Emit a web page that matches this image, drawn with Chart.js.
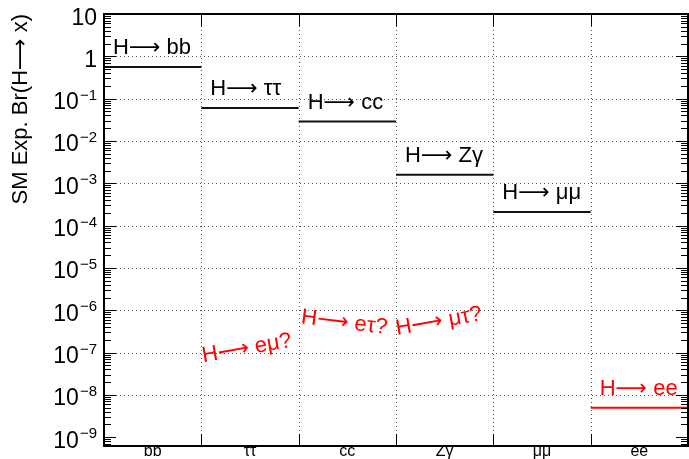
<!DOCTYPE html>
<html>
<head>
<meta charset="utf-8">
<script src="https://cdn.jsdelivr.net/npm/chart.js@4.4.0/dist/chart.umd.min.js"></script>
<style>
    html, body { margin: 0; padding: 0; background: #fff; }
</style>
</head>
<body>
<canvas id="brChart" width="689" height="459"></canvas>
<script>
/**
 * SM expected Higgs branching ratios, ROOT style plot.
 */

var categories  = ['bb', 'ττ', 'cc', 'Zγ', 'μμ', 'ee'];
var decayLabels = ['H⟶ bb', 'H⟶ ττ', 'H⟶ cc', 'H⟶ Zγ', 'H⟶ μμ', 'H⟶ ee'];
var branching   = [0.56, 0.06, 0.0287, 0.0016, 0.00021, 5.0e-9];
var lineColors  = ['#111', '#111', '#111', '#111', '#111', '#ff0000'];

// lepton flavour violating modes, only a question mark in the plot
var lfvLabels = ['H⟶ eμ?', 'H⟶ eτ?', 'H⟶ μτ?'];
var lfvX      = [1.02, 2.02, 3.01];
var lfvY      = [5.9e-8, 4.9e-7, 2.6e-7];
var lfvAngle  = [-10, 7, -10];

var decadeExp = [1, 0, -1, -2, -3, -4, -5, -6, -7, -8, -9];
var yMin = 6.2e-10;
var yMax = 10;

var FONT = '"Liberation Sans", "DejaVu Sans", Arial, sans-serif';

var rootStyle = {
    id: 'rootStyle',

    beforeDatasetsDraw: function(chart) {
        var c = chart.ctx, a = chart.chartArea;
        var xs = chart.scales.x, ys = chart.scales.y;
        c.save();
        c.strokeStyle = '#555';
        c.lineWidth = 1;
        c.setLineDash([1, 3]);
        // horizontal dotted grid at decades
        decadeExp.forEach(function(e) {
            var v = Math.pow(10, e);
            if (v >= yMax || e <= -9) return;
            var y = Math.round(ys.getPixelForValue(v)) + 0.5;
            c.beginPath(); c.moveTo(a.left, y); c.lineTo(a.right, y); c.stroke();
        });
        // vertical dotted grid at category edges
        for (var i = 1; i < categories.length; i++) {
            var x = Math.round(xs.getPixelForValue(i)) + 0.5;
            c.beginPath(); c.moveTo(x, a.top); c.lineTo(x, a.bottom); c.stroke();
        }
        c.restore();
    },

    afterDatasetsDraw: function(chart) {
        var c = chart.ctx, a = chart.chartArea;
        var xs = chart.scales.x, ys = chart.scales.y;
        c.save();

        // minor and major ticks, left and right
        c.strokeStyle = '#000';
        c.lineWidth = 1;
        for (var e = -10; e <= 0; e++) {
            for (var k = 1; k <= 9; k++) {
                var v = k * Math.pow(10, e);
                if (v < yMin || v > yMax) continue;
                var y = Math.round(ys.getPixelForValue(v)) + 0.5;
                var len = (k === 1) ? 12 : 7;
                c.beginPath();
                c.moveTo(a.left, y); c.lineTo(a.left + len, y);
                c.moveTo(a.right, y); c.lineTo(a.right - len, y);
                c.stroke();
            }
        }
        // category edge ticks, bottom and top
        for (var i = 1; i < categories.length; i++) {
            var x = Math.round(xs.getPixelForValue(i)) + 0.5;
            c.beginPath();
            c.moveTo(x, a.bottom); c.lineTo(x, a.bottom - 12);
            c.moveTo(x, a.top); c.lineTo(x, a.top + 12);
            c.stroke();
        }

        // frame
        c.lineWidth = 2;
        c.strokeRect(a.left, a.top, a.right - a.left, a.bottom - a.top);

        // y tick labels 10^n
        c.fillStyle = '#000';
        c.textBaseline = 'alphabetic';
        decadeExp.forEach(function(e) {
            var y = ys.getPixelForValue(Math.pow(10, e));
            var xr = 97;
            if (e === 1 || e === 0) {
                c.font = '23px ' + FONT;
                c.textAlign = 'right';
                c.fillText(e === 1 ? '10' : '1', xr, y + 10.5);
                return;
            }
            var sup = '−' + (-e);
            c.font = '15px ' + FONT;
            c.textAlign = 'right';
            c.fillText(sup, xr, y + 1);
            var w = c.measureText(sup).width;
            c.font = '23px ' + FONT;
            c.fillText('10', xr - w - 1, y + 10.5);
        });

        // decay labels above each line
        c.textAlign = 'left';
        c.font = '22px ' + FONT;
        decayLabels.forEach(function(txt, i) {
            c.fillStyle = lineColors[i] === '#ff0000' ? '#ff0000' : '#000';
            c.fillText(txt, xs.getPixelForValue(i) + 9, ys.getPixelForValue(branching[i]) - 13);
        });

        // LFV question marks
        c.fillStyle = '#ff0000';
        lfvLabels.forEach(function(txt, i) {
            c.save();
            c.translate(xs.getPixelForValue(lfvX[i]), ys.getPixelForValue(lfvY[i]));
            c.rotate(lfvAngle[i] * Math.PI / 180);
            c.fillText(txt, 0, 0);
            c.restore();
        });

        c.restore();
    }
};

var ctx = document.getElementById('brChart').getContext('2d');

var chart = new Chart(ctx, {
    type: 'line',

    data: {
        datasets: categories.map(function(cat, i) {
            return {
                label: cat,
                data: [{x: i, y: branching[i]}, {x: i + 1, y: branching[i]}],
                borderColor: lineColors[i],
                borderWidth: 2,
                pointRadius: 0,
                fill: false
            };
        })
    },

    options: {
        responsive: false,
        animation: false,
        layout: { padding: { top: 14, right: 1, left: 0, bottom: 0 } },
        plugins: {
            legend: { display: false },
            tooltip: { enabled: false }
        },
        scales: {
            x: {
                type: 'linear',
                min: 0,
                max: categories.length,
                afterBuildTicks: function(scale) {
                    scale.ticks = categories.map(function(c, i) { return { value: i + 0.5 }; });
                },
                afterFit: function(scale) { scale.height = 13; },
                ticks: {
                    callback: function(v) { return categories[Math.floor(v)]; },
                    font: { size: 16, family: FONT },
                    color: '#000',
                    padding: -4,
                    maxRotation: 0,
                    autoSkip: false
                },
                grid: { display: false, drawTicks: false },
                border: { display: false }
            },
            y: {
                type: 'logarithmic',
                min: yMin,
                max: yMax,
                afterFit: function(scale) { scale.width = 104; },
                ticks: { display: false },
                grid: { display: false, drawTicks: false },
                border: { display: false },
                title: {
                    display: true,
                    text: 'SM Exp. Br(H⟶ x)',
                    align: 'end',
                    color: '#000',
                    font: { size: 22, family: FONT },
                    padding: { top: 8, bottom: 0 }
                }
            }
        }
    },

    plugins: [rootStyle]
});
</script>
</body>
</html>
